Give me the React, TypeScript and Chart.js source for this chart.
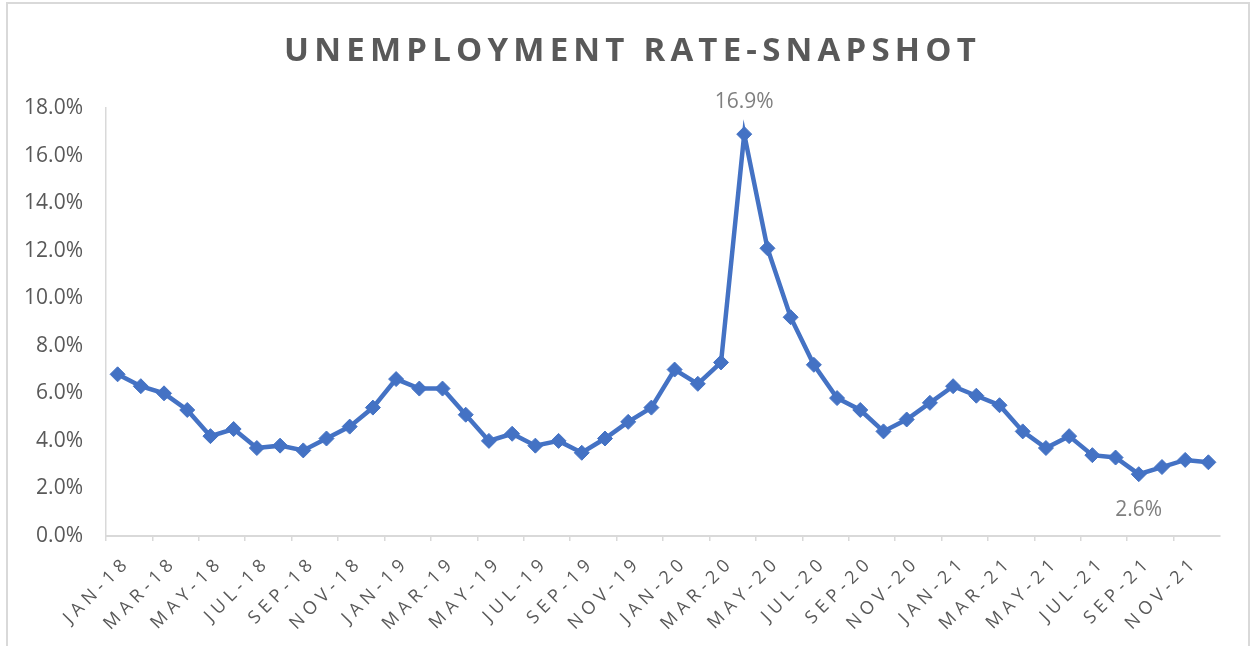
import React, { useEffect, useRef } from "react";
import { Chart, registerables } from "chart.js";

Chart.register(...registerables);

const months = [
  "JAN-18", "FEB-18", "MAR-18", "APR-18", "MAY-18", "JUN-18", "JUL-18", "AUG-18", "SEP-18", "OCT-18", "NOV-18", "DEC-18",
  "JAN-19", "FEB-19", "MAR-19", "APR-19", "MAY-19", "JUN-19", "JUL-19", "AUG-19", "SEP-19", "OCT-19", "NOV-19", "DEC-19",
  "JAN-20", "FEB-20", "MAR-20", "APR-20", "MAY-20", "JUN-20", "JUL-20", "AUG-20", "SEP-20", "OCT-20", "NOV-20", "DEC-20",
  "JAN-21", "FEB-21", "MAR-21", "APR-21", "MAY-21", "JUN-21", "JUL-21", "AUG-21", "SEP-21", "OCT-21", "NOV-21", "DEC-21",
];

const unemploymentRate = [
  6.8, 6.3, 6.0, 5.3, 4.2, 4.5, 3.7, 3.8, 3.6, 4.1, 4.6, 5.4,
  6.6, 6.2, 6.2, 5.1, 4.0, 4.3, 3.8, 4.0, 3.5, 4.1, 4.8, 5.4,
  7.0, 6.4, 7.3, 16.9, 12.1, 9.2, 7.2, 5.8, 5.3, 4.4, 4.9, 5.6,
  6.3, 5.9, 5.5, 4.4, 3.7, 4.2, 3.4, 3.3, 2.6, 2.9, 3.2, 3.1,
];

const yTicks = [0, 2, 4, 6, 8, 10, 12, 14, 16, 18];
const labelAboveIndices = [27];
const labelBelowIndices = [44];
const chartTitle = "UNEMPLOYMENT RATE-SNAPSHOT";

const W = 1254;
const H = 646;

export default function App() {
  const ref = useRef<HTMLCanvasElement | null>(null);

  useEffect(() => {
    if (!ref.current) return;

    const xLabelSpacing: any = {
      id: "xLabelSpacing",
      beforeDraw(chart: any) {
        const s = chart.scales.x;
        if (s && !s.__patched) {
          const orig = s.drawLabels;
          s.drawLabels = function (area: any) {
            const c = this.ctx;
            c.save();
            c.letterSpacing = "5px";
            orig.call(this, area);
            c.restore();
          };
          s.__patched = true;
        }
      },
    };

    const titlePlugin: any = {
      id: "customTitle",
      afterDraw(chart: any) {
        const c = chart.ctx;
        const sp = 5.2;
        c.save();
        c.font = "bold 33px 'Open Sans'";
        c.letterSpacing = sp + "px";
        c.fillStyle = "#595959";
        c.textAlign = "left";
        c.textBaseline = "alphabetic";
        const w = c.measureText(chartTitle).width - sp;
        c.fillText(chartTitle, 630 - w / 2, 61);
        c.restore();
      },
    };

    const pointLabels: any = {
      id: "pointLabels",
      afterDatasetsDraw(chart: any) {
        const c = chart.ctx;
        const meta = chart.getDatasetMeta(0);
        c.save();
        c.font = "21px 'Open Sans'";
        c.fillStyle = "#7f7f7f";
        c.textAlign = "center";
        c.textBaseline = "middle";
        labelAboveIndices.forEach((i) => {
          const p = meta.data[i];
          c.fillText(unemploymentRate[i].toFixed(1) + "%", p.x, p.y - 32);
        });
        labelBelowIndices.forEach((i) => {
          const p = meta.data[i];
          c.fillText(unemploymentRate[i].toFixed(1) + "%", p.x, p.y + 36);
        });
        c.restore();
      },
    };

    const chart = new Chart(ref.current, {
      type: "line",
      data: {
        labels: months,
        datasets: [
          {
            label: "Unemployment rate",
            data: unemploymentRate,
            borderColor: "#4472C4",
            backgroundColor: "#4472C4",
            borderWidth: 4.5,
            pointStyle: "rectRot",
            pointRadius: 7.5,
            pointBorderWidth: 1,
            pointBackgroundColor: "#4472C4",
            pointBorderColor: "#4472C4",
            tension: 0,
          },
        ],
      },
      options: {
        responsive: false,
        animation: false,
        layout: { padding: { left: 0, right: 34, top: 108, bottom: 0 } },
        plugins: {
          legend: { display: false },
          title: { display: false },
          tooltip: { enabled: false },
        },
        scales: {
          x: {
            type: "category",
            offset: true,
            grid: {
              offset: true,
              drawOnChartArea: false,
              drawTicks: true,
              tickLength: 5,
              lineWidth: 1.5,
              color: (ctx: any) => (ctx.index % 2 === 0 ? "#d9d9d9" : "rgba(0,0,0,0)"),
            },
            border: { display: true, color: "#d9d9d9", width: 2 },
            ticks: {
              autoSkip: false,
              maxRotation: 45,
              minRotation: 45,
              padding: 11,
              labelOffset: 10,
              color: "#595959",
              font: { family: "'Open Sans'", size: 18 },
              callback: (_v: any, i: number) => (i % 2 === 0 ? months[i] : ""),
            },
            afterFit: (scale: any) => {
              scale.height = 110;
            },
          },
          y: {
            min: 0,
            max: 18,
            afterBuildTicks: (scale: any) => {
              scale.ticks = yTicks.map((v) => ({ value: v }));
            },
            grid: { display: false, drawTicks: false },
            border: { display: true, color: "#d9d9d9", width: 1.5 },
            ticks: {
              padding: 23,
              color: "#595959",
              font: { family: "'Open Sans'", size: 21 },
              callback: (v: any) => Number(v).toFixed(1) + "%",
            },
            afterFit: (scale: any) => {
              scale.width = 106;
            },
          },
        },
      },
      plugins: [xLabelSpacing, titlePlugin, pointLabels],
    });

    return () => chart.destroy();
  }, []);

  return (
    <div style={{ position: "absolute", left: 0, top: 0, width: W, height: H, background: "#fff", overflow: "hidden" }}>
      <div
        style={{
          position: "absolute",
          left: 6,
          top: 2,
          width: W - 10,
          height: H + 10,
          border: "2px solid #d9d9d9",
          boxSizing: "border-box",
        }}
      />
      <canvas ref={ref} width={W} height={H} style={{ position: "absolute", left: 0, top: 0, width: W, height: H }} />
    </div>
  );
}
